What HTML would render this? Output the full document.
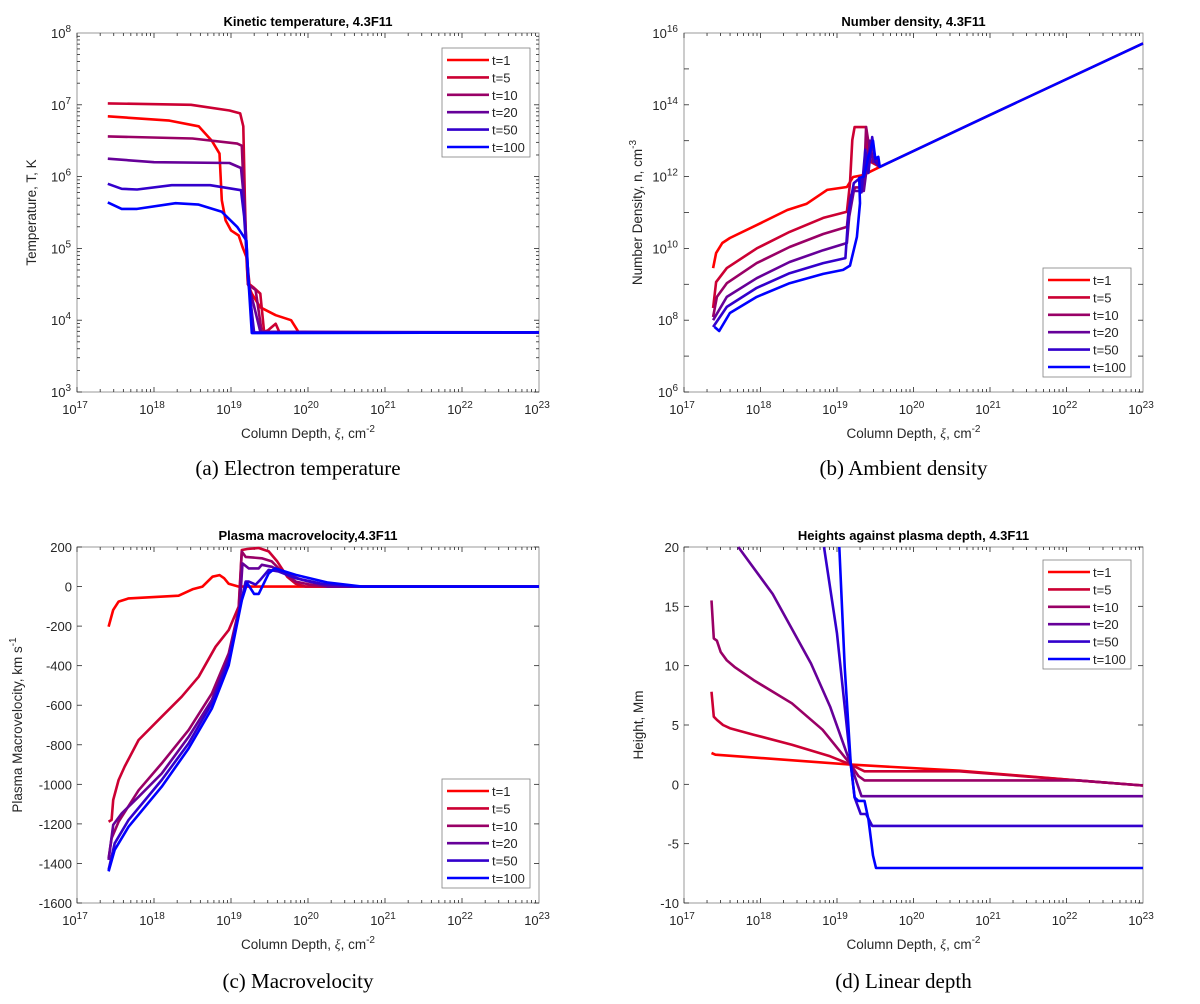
<!DOCTYPE html>
<html><head><meta charset="utf-8">
<style>
body{margin:0;background:#fff;}
svg text{font-family:"Liberation Sans",sans-serif;fill:#262626;}
.cap{font-family:"Liberation Serif",serif;font-size:21px;fill:#000;}
.ttl{font-weight:bold;font-size:13px;fill:#000;}
</style></head>
<body>
<svg id="fig" width="1200" height="999" viewBox="0 0 1200 999" xmlns="http://www.w3.org/2000/svg"></svg>
<script>
// ---- data (x values are log10 column depth) ----
const seriesLabels = ["t=1","t=5","t=10","t=20","t=50","t=100"];
const seriesColors = ["#ff0000","#cc0033","#990066","#660099","#3300cc","#0000ff"];
const xTickExp = [17,18,19,20,21,22,23];

// Panel a: log10 temperature
const tempT1 = [[17.4,6.84],[18.2,6.78],[18.58,6.70],[18.75,6.5],[18.85,6.32],[18.88,5.67],[18.93,5.39],[19.0,5.25],[19.1,5.18],[19.15,5.02],[19.2,4.88],[19.22,4.5],[19.27,4.37],[19.38,4.18],[19.58,4.07],[19.78,4.0],[19.88,3.83],[23,3.83]];
const tempT5 = [[17.4,7.02],[18.48,7.0],[18.98,6.92],[19.12,6.88],[19.16,6.7],[19.18,5.67],[19.2,4.92],[19.24,4.5],[19.3,4.45],[19.38,4.37],[19.43,3.84],[19.48,3.86],[19.58,3.95],[19.63,3.83],[23,3.83]];
const tempT10 = [[17.4,6.56],[18.5,6.53],[19.08,6.46],[19.14,6.43],[19.17,5.67],[19.22,4.5],[19.32,4.42],[19.4,3.83],[23,3.83]];
const tempT20 = [[17.4,6.25],[18.0,6.2],[18.98,6.19],[19.13,6.12],[19.17,5.67],[19.23,4.5],[19.38,3.84],[23,3.83]];
const tempT50 = [[17.4,5.9],[17.58,5.83],[17.78,5.82],[18.23,5.88],[18.73,5.88],[19.13,5.81],[19.17,5.45],[19.23,4.5],[19.3,3.83],[23,3.83]];
const tempT100 = [[17.4,5.64],[17.58,5.55],[17.78,5.55],[18.28,5.63],[18.58,5.61],[18.88,5.51],[19.08,5.3],[19.2,5.11],[19.23,4.5],[19.27,3.82],[23,3.83]];

// Panel b: log10 number density
const densN1 = [[17.38,9.45],[17.42,9.87],[17.5,10.15],[17.6,10.29],[17.95,10.65],[18.35,11.07],[18.6,11.24],[18.87,11.63],[19.13,11.71],[19.21,11.99],[19.34,12.04],[19.56,12.27],[21.0,13.72],[23,15.71]];
const densN5 = [[17.38,8.34],[17.42,9.06],[17.56,9.45],[17.95,10.0],[18.38,10.46],[18.82,10.85],[19.13,11.02],[19.17,11.82],[19.2,13.02],[19.23,13.38],[19.38,13.38],[19.41,12.55],[19.45,12.4],[19.56,12.27]];
const densN10 = [[17.38,8.09],[17.43,8.65],[17.56,9.03],[17.95,9.59],[18.38,10.04],[18.82,10.4],[19.13,10.6],[19.17,11.43],[19.24,11.7],[19.35,11.7],[19.38,13.38],[19.44,12.55],[19.5,12.55],[19.56,12.27]];
const densN20 = [[17.38,8.0],[17.56,8.65],[17.95,9.17],[18.38,9.62],[18.82,9.95],[19.13,10.15],[19.16,10.88],[19.22,11.6],[19.35,11.6],[19.39,12.25],[19.43,13.0],[19.47,12.4],[19.52,12.5],[19.56,12.27]];
const densN50 = [[17.38,7.81],[17.56,8.37],[17.95,8.9],[18.38,9.31],[18.82,9.59],[19.11,9.73],[19.15,11.0],[19.22,11.82],[19.3,11.96],[19.32,11.56],[19.37,12.75],[19.41,12.1],[19.46,13.1],[19.5,12.4],[19.56,12.27]];
const densN100 = [[17.4,7.81],[17.46,7.7],[17.6,8.2],[17.95,8.65],[18.38,9.03],[18.82,9.29],[19.08,9.4],[19.17,9.52],[19.26,10.32],[19.3,11.26],[19.29,11.96],[19.35,12.0],[19.41,12.55],[19.47,13.0],[19.5,12.5],[19.54,12.55],[19.56,12.27],[21.0,13.72],[23,15.71]];

// Panel c: velocity km/s
const velV1 = [[17.41,-203],[17.47,-118],[17.54,-76],[17.67,-60],[18.32,-46],[18.5,-14],[18.63,0],[18.76,50],[18.85,58],[18.91,42],[18.97,14],[19.1,0],[23,0]];
const velV5 = [[17.41,-1189],[17.45,-1180],[17.47,-1079],[17.54,-978],[17.62,-910],[17.8,-776],[18.1,-658],[18.36,-557],[18.58,-456],[18.8,-304],[18.97,-220],[19.1,-101],[19.14,185],[19.21,190],[19.36,195],[19.49,178],[19.6,127],[19.73,50],[19.84,14],[19.97,0],[23,0]];
const velV10 = [[17.41,-1374],[17.45,-1273],[17.54,-1189],[17.8,-1030],[18.1,-894],[18.45,-726],[18.75,-541],[18.97,-338],[19.1,-118],[19.14,177],[19.19,150],[19.4,143],[19.53,127],[19.66,76],[19.84,25],[20.05,8],[20.26,0],[23,0]];
const velV20 = [[17.41,-1382],[17.47,-1205],[17.58,-1147],[17.8,-1063],[18.1,-945],[18.45,-760],[18.75,-574],[18.97,-355],[19.11,-118],[19.15,117],[19.23,92],[19.36,92],[19.4,110],[19.53,100],[19.7,67],[19.92,34],[20.26,0],[23,0]];
const velV50 = [[17.41,-1432],[17.49,-1298],[17.67,-1180],[18.1,-978],[18.45,-793],[18.75,-591],[18.97,-372],[19.12,-101],[19.19,25],[19.23,25],[19.32,10],[19.38,34],[19.49,84],[19.62,76],[19.84,42],[20.18,14],[20.6,0],[23,0]];
const velV100 = [[17.41,-1440],[17.49,-1331],[17.67,-1214],[18.1,-1012],[18.45,-819],[18.75,-617],[18.97,-398],[19.14,-70],[19.21,17],[19.3,-37],[19.36,-37],[19.49,67],[19.57,92],[19.84,59],[20.26,20],[20.7,0],[23,0]];

// Panel d: height Mm
const hgtH1 = [[17.36,2.64],[17.41,2.5],[19.18,1.66],[20.6,1.15],[22.15,0.33],[23,-0.1]];
const hgtH5 = [[17.36,7.8],[17.39,5.7],[17.43,5.43],[17.51,5.0],[17.6,4.73],[17.91,4.18],[18.41,3.34],[18.91,2.36],[19.18,1.66],[19.36,1.1],[20.6,1.1],[22.15,0.33],[23,-0.1]];
const hgtH10 = [[17.36,15.5],[17.39,12.3],[17.43,12.1],[17.48,11.15],[17.56,10.45],[17.66,9.9],[17.91,8.78],[18.41,6.83],[18.81,4.6],[19.18,1.66],[19.28,0.7],[19.36,0.33],[22.15,0.33],[23,-0.1]];
const hgtH20 = [[17.71,20],[18.16,16.04],[18.66,10.18],[18.91,6.55],[19.18,1.66],[19.26,0.13],[19.32,-1.0],[23,-1.0]];
const hgtH50 = [[18.83,20],[19.0,12.7],[19.18,1.66],[19.23,-1.1],[19.31,-2.5],[19.38,-2.5],[19.46,-3.5],[23,-3.5]];
const hgtH100 = [[19.03,20],[19.1,9.9],[19.18,1.66],[19.23,-1.1],[19.28,-1.4],[19.36,-1.4],[19.41,-2.94],[19.47,-6.0],[19.51,-7.05],[23,-7.05]];

const velTicks = [200,0,-200,-400,-600,-800,-1000,-1200,-1400,-1600];
const hgtTicks = [20,15,10,5,0,-5,-10];
const tempTickExp = [3,4,5,6,7,8];
const densTickExp = [6,8,10,12,14,16];

const NS = "http://www.w3.org/2000/svg";
const svg = document.getElementById('fig');
function mk(tag, attrs, parent){
  const e = document.createElementNS(NS, tag);
  for (const k in attrs) e.setAttribute(k, attrs[k]);
  (parent||svg).appendChild(e); return e;
}
function supText(parent, x, y, base, exp, anchor){
  const t = mk('text',{x:x,y:y,'font-size':13,'text-anchor':anchor}, parent);
  
  
  const b = mk('tspan',{},t); b.textContent = base;
  const s = mk('tspan',{dy:-6,'font-size':10},t); s.textContent = exp;
  return t;
}

function panel(cfg){
  const g = mk('g',{});
  
  
  const L=cfg.x0,R=cfg.x1,T=cfg.y0,B=cfg.y1;
  const sx = v => L + (v-17)/(23-17)*(R-L);
  const sy = v => B - (v-cfg.ymin)/(cfg.ymax-cfg.ymin)*(B-T);
  const ax = mk('g',{stroke:'#262626','stroke-width':0.8,fill:'none'},g);
  
  
  mk('rect',{x:L,y:T,width:R-L,height:B-T,stroke:'#808080'},ax);
  // x ticks (log)
  for (let d=17; d<23; d++){
    for (let m=1; m<10; m++){
      const xx = sx(d+Math.log10(m));
      const len = m===1?5:3;
      mk('line',{x1:xx,x2:xx,y1:B,y2:B-len},ax);
      mk('line',{x1:xx,x2:xx,y1:T,y2:T+len},ax);
    }
  }
  xTickExp.forEach(e=>{ supText(g, sx(e)-2, B+22, '10', e, 'middle'); });
  // y ticks
  if (cfg.ylog){
    for (let d=cfg.ymin; d<cfg.ymax; d++){
      const step = (cfg.ymax-cfg.ymin)>6 ? [1] : [1,2,3,4,5,6,7,8,9];
      step.forEach(m=>{
        const yy = sy(d+Math.log10(m));
        const len = m===1?5:3;
        mk('line',{x1:L,x2:L+len,y1:yy,y2:yy},ax);
        mk('line',{x1:R,x2:R-len,y1:yy,y2:yy},ax);
      });
    }
    cfg.yticks.forEach(e=>{ supText(g, L-6, sy(e)+5, '10', e, 'end'); });
  } else {
    cfg.yticks.forEach(v=>{
      const yy = sy(v);
      mk('line',{x1:L,x2:L+5,y1:yy,y2:yy},ax);
      mk('line',{x1:R,x2:R-5,y1:yy,y2:yy},ax);
      const t = mk('text',{x:L-5,y:yy+5,'font-size':13,'text-anchor':'end'},g);
      
      
      t.textContent = String(v);
    });
  }
  // series
  cfg.series.forEach((s,i)=>{
    const d = s.map((p,j)=>(j?'L':'M')+sx(p[0]).toFixed(1)+','+sy(Math.min(Math.max(p[1],cfg.ymin),cfg.ymax)).toFixed(1)).join(' ');
    const p = mk('path',{d:d,fill:'none',stroke:seriesColors[i],'stroke-width':2.6,'stroke-linejoin':'round'},g);
    
    
  });
  // title
  const tt = mk('text',{x:(L+R)/2,y:T-7,'text-anchor':'middle',class:'ttl'},g);
  
  
  tt.textContent = cfg.title;
  // x label
  const xl = mk('text',{x:(L+R)/2,y:B+46,'text-anchor':'middle','font-size':13.5},g);
  
  
  mk('tspan',{},xl).textContent='Column Depth, ';
  mk('tspan',{'font-family':'Liberation Serif','font-style':'italic'},xl).textContent='ξ';
  mk('tspan',{},xl).textContent=', cm';
  mk('tspan',{dy:-6,'font-size':10},xl).textContent='-2';
  // y label
  const yc = (T+B)/2;
  const yl = mk('text',{x:cfg.ylx,y:yc,'text-anchor':'middle','font-size':13.5,transform:'rotate(-90 '+cfg.ylx+' '+yc+')'},g);
  
  
  mk('tspan',{},yl).textContent = cfg.ylab;
  if (cfg.ysup){ mk('tspan',{dy:-6,'font-size':10},yl).textContent = cfg.ysup; }
  // legend
  const lg = mk('g',{},g);
  
  
  mk('rect',{x:cfg.lx,y:cfg.ly,width:88,height:109,fill:'#fff',stroke:'#808080','stroke-width':0.8},lg);
  seriesLabels.forEach((lab,i)=>{
    const yy = cfg.ly+12+i*17.4;
    const e = mk('g',{},lg);
    
    
    mk('line',{x1:cfg.lx+5,x2:cfg.lx+47,y1:yy,y2:yy,stroke:seriesColors[i],'stroke-width':2.6},e);
    const t = mk('text',{x:cfg.lx+50,y:yy+5,'font-size':13},e);
    t.textContent = lab;
  });
  // caption
  const c = mk('text',{x:(L+R)/2-10,y:cfg.capy,'text-anchor':'middle',class:'cap'},g);
  
  
  c.textContent = cfg.cap;
}

panel({name:'panel-temperature',x0:77,x1:539,y0:33,y1:392,ymin:3,ymax:8,ylog:true,yticks:tempTickExp,
  series:[tempT1,tempT5,tempT10,tempT20,tempT50,tempT100],title:'Kinetic temperature, 4.3F11',
  ylab:'Temperature, T, K',ylx:36,lx:442,ly:48,capy:475,cap:'(a) Electron temperature'});
panel({name:'panel-density',x0:684,x1:1143,y0:33,y1:392,ymin:6,ymax:16,ylog:true,yticks:densTickExp,
  series:[densN1,densN5,densN10,densN20,densN50,densN100],title:'Number density, 4.3F11',
  ylab:'Number Density, n, cm',ysup:'-3',ylx:642,lx:1043,ly:268,capy:475,cap:'(b) Ambient density'});
panel({name:'panel-velocity',x0:77,x1:539,y0:547,y1:903,ymin:-1600,ymax:200,ylog:false,yticks:velTicks,
  series:[velV1,velV5,velV10,velV20,velV50,velV100],title:'Plasma macrovelocity,4.3F11',
  ylab:'Plasma Macrovelocity, km s',ysup:'-1',ylx:22,lx:442,ly:779,capy:988,cap:'(c) Macrovelocity'});
panel({name:'panel-height',x0:684,x1:1143,y0:547,y1:903,ymin:-10,ymax:20,ylog:false,yticks:hgtTicks,
  series:[hgtH1,hgtH5,hgtH10,hgtH20,hgtH50,hgtH100],title:'Heights against plasma depth, 4.3F11',
  ylab:'Height, Mm',ylx:643,lx:1043,ly:560,capy:988,cap:'(d) Linear depth'});
</script>
</body></html>
